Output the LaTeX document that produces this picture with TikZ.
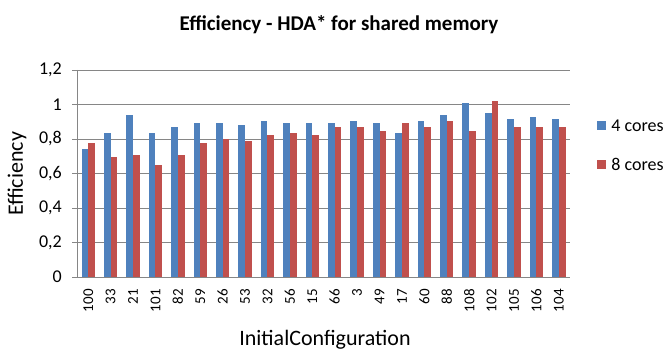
\documentclass[tikz,border=0pt]{standalone}
\usepackage{fontspec}
\setmainfont{Carlito}
\usetikzlibrary{positioning}

\definecolor{coreblue}{HTML}{4F81BD}
\definecolor{corered}{HTML}{C0504D}
\definecolor{gridgray}{HTML}{868686}

\begin{document}
\begin{tikzpicture}
            [x=1pt,y=-1pt,every node/.style={inner sep=0pt},
             gridline/.style={draw=gridgray, line width=0.9pt},
             legkey/.style={minimum size=9pt, inner sep=0pt},
             ticklbl/.style={font=\fontsize{18}{20}\selectfont}]
          \useasboundingbox (0,0) rectangle (669,352);

          % horizontal grid, with the little ticks left of the axis
          \foreach \v/\t [count=\k] in {0/0, 0.2/{0,2}, 0.4/{0,4}, 0.6/{0,6}, 0.8/{0,8}, 1/1, 1.2/{1,2}}
          {
            \draw[gridline] (72,{277-172.5*\v}) -- (570,{277-172.5*\v});
            \node[ticklbl, anchor=east] (ytick\k) at (62,{277-172.5*\v}) {\t};
          }
          \draw[gridline] (77,70) -- (77,277);

          % bars: label / 4 cores / 8 cores
          \foreach \lbl/\va/\vb [count=\i] in {100/0.74/0.775, 33/0.833/0.694, 21/0.937/0.705,
              101/0.833/0.647, 82/0.868/0.705, 59/0.891/0.775, 26/0.891/0.798, 53/0.879/0.787,
              32/0.903/0.821, 56/0.891/0.833, 15/0.891/0.821, 66/0.891/0.868, 3/0.903/0.868,
              49/0.891/0.845, 17/0.833/0.891, 60/0.903/0.868, 88/0.937/0.903, 108/1.007/0.845,
              102/0.949/1.019, 105/0.914/0.868, 106/0.926/0.868, 104/0.914/0.868}
          {
            \pgfmathsetmacro\cx{77+22.41*(\i-0.5)}
            \fill[coreblue] ({\cx-6.7},277) rectangle (\cx,{277-172.5*\va});
            \fill[corered] (\cx,277) rectangle ({\cx+6.7},{277-172.5*\vb});
            \node[rotate=90, anchor=east, font=\fontsize{15}{16}\selectfont] (xtick\i) at (\cx,289) {\lbl};
          }

          \node[font=\bfseries\fontsize{21}{24}\selectfont] (title) at (339,25) {Efficiency - HDA* for shared memory};
          \node[rotate=90, font=\fontsize{22}{24}\selectfont] (ylabel) at (17,174) {Efficiency};
          \node[font=\fontsize{22}{24}\selectfont] (xlabel) at (325,340) {InitialConfiguration};

          \node[legkey, fill=coreblue] (key4) at (601.5,126) {};
          \node[ticklbl, right=5pt of key4] (lab4) {4 cores};
          \node[legkey, fill=corered] (key8) at (601.5,164.5) {};
          \node[ticklbl, right=5pt of key8] (lab8) {8 cores};
        \end{tikzpicture}
\end{document}
